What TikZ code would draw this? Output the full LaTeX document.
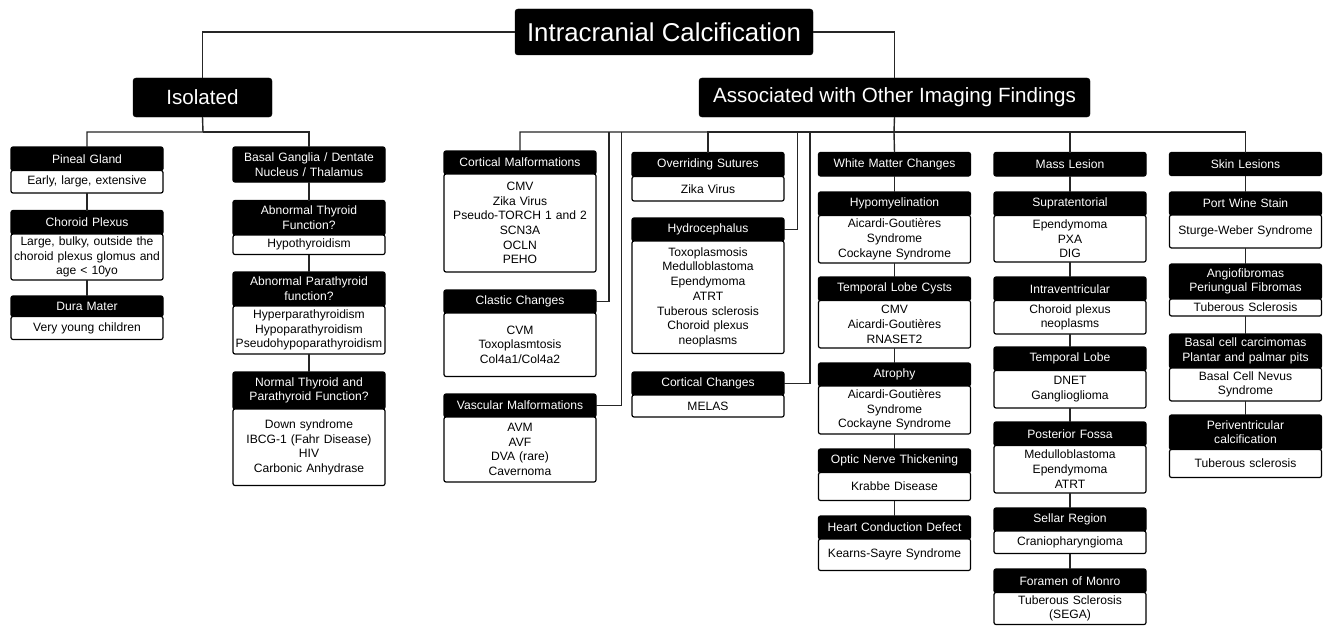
\documentclass[tikz,border=0pt]{standalone}
\usepackage{fontspec}
\setmainfont{Liberation Sans}
\tikzset{
 conn/.style={draw=black!85, line width=1.4pt},
 box/.style={rounded corners=2pt, line width=1.2pt, draw=black, outer sep=0pt, inner sep=0pt, minimum width=152pt, text width=150pt, align=center, font=\fontsize{12.1}{14.7}\selectfont},
 hdr/.style={box, fill=black, text=white},
 bdy/.style={box, fill=white, text=black},
 lvl/.style={rounded corners=3pt, fill=black, draw=black, text=white, outer sep=0pt, inner sep=0pt}
}
\newcommand\mkhead[5]{\node[hdr, anchor=north, minimum height=#4pt] (#1) at (#2,#3) {#5};}
\newcommand\mkcard[7]{\mkhead{#1}{#2}{#3}{#4}{#6}\node[bdy, anchor=north, minimum height=#5pt] (#1b) at (#1.south) {#7};}
\begin{document}
\begin{tikzpicture}[x=1pt,y=-1pt]
\useasboundingbox[fill=white] (0,0) rectangle (1326,626);
% top levels
\node[lvl, minimum width=298pt, minimum height=46pt, font=\fontsize{25.8}{30}\selectfont] (title) at (664,32) {Intracranial Calcification};
\node[lvl, minimum width=139pt, minimum height=39pt, font=\fontsize{20.6}{24}\selectfont] (isolated) at (202.5,97.5) {Isolated};
\node[lvl, minimum width=391pt, minimum height=39pt, font=\fontsize{20.6}{24}\selectfont] (assoc) at (894.5,97.5) {Associated with Other Imaging Findings};
% bus coordinates
\coordinate (ibus) at (203,132);
\coordinate (abus) at (894,132);
\coordinate (bclastic) at (609,132);
\coordinate (bvasc) at (621.5,132);
\coordinate (bhydro) at (797.5,132);
\coordinate (bcortchg) at (810,132);
% column 1
\mkcard{pineal}{87}{147}{23.5}{22.5}{Pineal Gland}{Early, large, extensive}
\mkcard{choroid}{87}{210.5}{23.5}{46}{Choroid Plexus}{Large, bulky, outside the\\choroid plexus glomus and\\age < 10yo}
\mkcard{dura}{87}{296}{20.5}{23}{Dura Mater}{Very young children}
% column 2
\mkhead{basal}{309}{147}{35}{Basal Ganglia / Dentate\\Nucleus / Thalamus}
\mkcard{thyroid}{309}{200.5}{34.5}{19.5}{Abnormal Thyroid\\Function?}{Hypothyroidism}
\mkcard{parathyroid}{309}{272}{34}{48}{Abnormal Parathyroid\\function?}{Hyperparathyroidism\\Hypoparathyroidism\\Pseudohypoparathyroidism}
\mkcard{normal}{309}{372}{37}{76.5}{Normal Thyroid and\\Parathyroid Function?}{Down syndrome\\IBCG-1 (Fahr Disease)\\HIV\\Carbonic Anhydrase}
% column 3
\mkcard{cortmal}{520}{151}{23}{98}{Cortical Malformations}{CMV\\Zika Virus\\Pseudo-TORCH 1 and 2\\SCN3A\\OCLN\\PEHO}
\mkcard{clastic}{520}{290}{23}{63.5}{Clastic Changes}{CVM\\Toxoplasmtosis\\Col4a1/Col4a2}
\mkcard{vascular}{520}{394}{23}{65}{Vascular Malformations}{AVM\\AVF\\DVA (rare)\\Cavernoma}
% column 4
\mkcard{overriding}{708}{152.5}{24}{24.5}{Overriding Sutures}{Zika Virus}
\mkcard{hydro}{708}{218}{23}{112.5}{Hydrocephalus}{Toxoplasmosis\\Medulloblastoma\\Ependymoma\\ATRT\\Tuberous sclerosis\\Choroid plexus\\neoplasms}
\mkcard{cortchg}{708}{372}{23}{22}{Cortical Changes}{MELAS}
% column 5
\mkhead{wm}{894.5}{152.5}{23.5}{White Matter Changes}
\mkcard{hypomy}{894.5}{192}{23.5}{47.5}{Hypomyelination}{Aicardi-Goutières\\Syndrome\\Cockayne Syndrome}
\mkcard{tlc}{894.5}{277}{23.5}{47.5}{Temporal Lobe Cysts}{CMV\\Aicardi-Goutières\\RNASET2}
\mkcard{atrophy}{894.5}{363}{23}{48}{Atrophy}{Aicardi-Goutières\\Syndrome\\Cockayne Syndrome}
\mkcard{optic}{894.5}{449}{23.5}{28}{Optic Nerve Thickening}{Krabbe Disease}
\mkcard{heart}{894.5}{516}{23}{31.5}{Heart Conduction Defect}{Kearns-Sayre Syndrome}
% column 6
\mkhead{mass}{1070}{152.5}{23.5}{Mass Lesion}
\mkcard{supra}{1070}{192}{23.5}{46.5}{Supratentorial}{Ependymoma\\PXA\\DIG}
\mkcard{intra}{1070}{277}{23.5}{33.5}{Intraventricular}{Choroid plexus\\neoplasms}
\mkcard{tlobe}{1070}{347}{23.5}{37.5}{Temporal Lobe}{DNET\\Ganglioglioma}
\mkcard{pfossa}{1070}{422}{23.5}{47.5}{Posterior Fossa}{Medulloblastoma\\Ependymoma\\ATRT}
\mkcard{sellar}{1070}{508}{23}{22.5}{Sellar Region}{Craniopharyngioma}
\mkcard{monro}{1070}{569}{23.5}{32}{Foramen of Monro}{Tuberous Sclerosis\\(SEGA)}
% column 7
\mkhead{skin}{1245.5}{152.5}{23}{Skin Lesions}
\mkcard{pws}{1245.5}{192}{23}{33}{Port Wine Stain}{Sturge-Weber Syndrome}
\mkcard{angio}{1245.5}{264}{35}{17}{Angiofibromas\\Periungual Fibromas}{Tuberous Sclerosis}
\mkcard{basalcell}{1245.5}{334}{34}{33}{Basal cell carcimomas\\Plantar and palmar pits}{Basal Cell Nevus\\Syndrome}
\mkcard{periv}{1245.5}{415}{34.5}{28}{Periventricular\\calcification}{Tuberous sclerosis}
% connectors: top
\draw[conn] (title.west) -| (isolated.north);
\draw[conn] (title.east) -| (assoc.north);
\draw[conn] (isolated.south) -- (ibus) -| (pineal.north);
\draw[conn] (ibus) -| (basal.north);
\draw[conn] (assoc.south) -- (abus) -| (cortmal.north);
\draw[conn] (abus) -| (overriding.north);
\draw[conn] (abus) -- (wm.north);
\draw[conn] (abus) -| (mass.north);
\draw[conn] (abus) -| (skin.north);
\draw[conn] (clastic.east) -| (bclastic);
\draw[conn] (vascular.east) -| (bvasc);
\draw[conn] (hydro.east) -| (bhydro);
\draw[conn] (cortchg.east) -| (bcortchg);
% chains
\draw[conn] (pinealb.south) -- (choroid.north);
\draw[conn] (choroidb.south) -- (dura.north);
\draw[conn] (basal.south) -- (thyroid.north);
\draw[conn] (thyroidb.south) -- (parathyroid.north);
\draw[conn] (parathyroidb.south) -- (normal.north);
\draw[conn] (wm.south) -- (hypomy.north);
\draw[conn] (hypomyb.south) -- (tlc.north);
\draw[conn] (tlcb.south) -- (atrophy.north);
\draw[conn] (atrophyb.south) -- (optic.north);
\draw[conn] (opticb.south) -- (heart.north);
\draw[conn] (mass.south) -- (supra.north);
\draw[conn] (suprab.south) -- (intra.north);
\draw[conn] (intrab.south) -- (tlobe.north);
\draw[conn] (tlobeb.south) -- (pfossa.north);
\draw[conn] (pfossab.south) -- (sellar.north);
\draw[conn] (sellarb.south) -- (monro.north);
\draw[conn] (skin.south) -- (pws.north);
\draw[conn] (pwsb.south) -- (angio.north);
\draw[conn] (angiob.south) -- (basalcell.north);
\draw[conn] (basalcellb.south) -- (periv.north);
\end{tikzpicture}
\end{document}
